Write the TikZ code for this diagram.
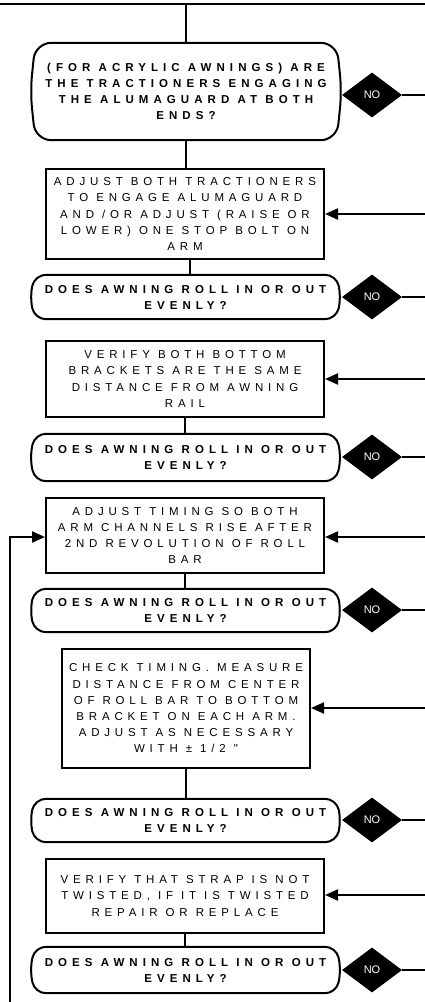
\documentclass[tikz,border=0pt]{standalone}
\usepackage{fontspec}
\setmainfont{Liberation Sans}
\newfontfamily\spfont[LetterSpace=42]{Liberation Sans}
\newfontfamily\bdfont[LetterSpace=44]{Liberation Sans Bold}
\usetikzlibrary{shapes.geometric,arrows.meta,calc}
\tikzset{
  ln/.style={line width=2pt},
  arr/.style={line width=2pt,-{Triangle[length=13pt,width=11pt]}},
  stepbox/.style={draw,line width=2pt,inner sep=0pt,minimum width=278pt,align=center,
    font=\spfont\fontsize{11.5}{16.2}\selectfont},
  decision/.style={inner sep=0pt,minimum width=311pt,align=center,
    font=\bdfont\fontsize{11.5}{16}\selectfont},
  nodia/.style={diamond,fill=black,inner sep=0pt,minimum width=60pt,minimum height=45pt,
    text=white,font=\fontsize{11}{11}\selectfont}
}
\newcommand{\decoutline}[2]{%
  \draw[ln,rounded corners=#2]
    ([xshift=5pt]#1.north west) -- ([xshift=-5pt]#1.north east) -- (#1.east)
    -- ([xshift=-5pt]#1.south east) -- ([xshift=5pt]#1.south west) -- (#1.west) -- cycle;}
\begin{document}
\begin{tikzpicture}[x=1pt,y=-1pt]
\useasboundingbox (0,0) rectangle (425,1002);
% top line
\coordinate (tl) at (0,4);
\coordinate (tr) at (425,4);
\draw[ln] (tl) -- (tr);
% decisions
\node[decision,minimum height=97pt] (D1) at (186,91.5) {(FOR ACRYLIC AWNINGS) ARE\\THE TRACTIONERS ENGAGING\\THE ALUMAGUARD AT BOTH\\ENDS?};
\decoutline{D1}{16pt}
\node[decision,minimum height=44pt] (D2) at (185.5,297) {DOES AWNING ROLL IN OR OUT\\EVENLY?};
\decoutline{D2}{11pt}
\node[decision,minimum height=47pt] (D3) at (185.5,457.5) {DOES AWNING ROLL IN OR OUT\\EVENLY?};
\decoutline{D3}{11pt}
\node[decision,minimum height=43pt] (D4) at (185.5,610.5) {DOES AWNING ROLL IN OR OUT\\EVENLY?};
\decoutline{D4}{11pt}
\node[decision,minimum height=43pt] (D5) at (185.5,820.5) {DOES AWNING ROLL IN OR OUT\\EVENLY?};
\decoutline{D5}{11pt}
\node[decision,minimum height=46pt] (D6) at (185.5,970) {DOES AWNING ROLL IN OR OUT\\EVENLY?};
\decoutline{D6}{11pt}
% boxes
\node[stepbox,minimum height=90pt] (B1) at (185,214) {ADJUST BOTH TRACTIONERS\\TO ENGAGE ALUMAGUARD\\AND /OR ADJUST (RAISE OR\\LOWER) ONE STOP BOLT ON\\ARM};
\node[stepbox,minimum height=76pt] (B2) at (185,379) {VERIFY BOTH BOTTOM\\BRACKETS ARE THE SAME\\DISTANCE FROM AWNING\\RAIL};
\node[stepbox,minimum height=75pt] (B3) at (185,535.5) {ADJUST TIMING SO BOTH\\ARM CHANNELS RISE AFTER\\2ND REVOLUTION OF ROLL\\BAR};
\node[stepbox,minimum width=248pt,minimum height=119pt] (B4) at (186,708.5) {CHECK TIMING. MEASURE\\DISTANCE FROM CENTER\\OF ROLL BAR TO BOTTOM\\BRACKET ON EACH ARM.\\ADJUST AS NECESSARY\\WITH ± 1/2 "};
\node[stepbox,minimum height=74pt] (B5) at (185,896) {VERIFY THAT STRAP IS NOT\\TWISTED, IF IT IS TWISTED\\REPAIR OR REPLACE};
% NO diamonds
\node[nodia] (N1) at (372,95) {NO};
\node[nodia] (N2) at (372,297) {NO};
\node[nodia] (N3) at (372,457) {NO};
\node[nodia] (N4) at (372,610) {NO};
\node[nodia] (N5) at (372,820) {NO};
\node[nodia] (N6) at (372,970) {NO};
% right edge coordinates
\coordinate (e1) at (425,95);
\coordinate (e2) at (425,297);
\coordinate (e3) at (425,457);
\coordinate (e4) at (425,610);
\coordinate (e5) at (425,820);
\coordinate (e6) at (425,970);
\foreach \i in {1,...,6} {\draw[ln] (N\i.east) -- (e\i);}
% vertical connectors
\draw[ln] (D1.north |- tl) -- (D1.north);
\draw[ln] (D1.south) -- (D1.south |- B1.north);
\draw[ln] ([xshift=5pt]B1.south) -- ([xshift=5pt]B1.south |- D2.north);
\draw[ln] (B2.south) -- (B2.south |- D3.north);
\draw[ln] (B3.south) -- (B3.south |- D4.north);
\draw[ln] (B4.south) -- (B4.south |- D5.north);
\draw[ln] (B5.south) -- (B5.south |- D6.north);
% incoming arrows from right
\coordinate (r1) at (425,214);
\coordinate (r2) at (425,379);
\coordinate (r3) at (425,537);
\coordinate (r4) at (425,708);
\coordinate (r5) at (425,895);
\draw[arr] (r1) -- (r1 -| B1.east);
\draw[arr] (r2) -- (r2 -| B2.east);
\draw[arr] (r3) -- (r3 -| B3.east);
\draw[arr] (r4) -- (r4 -| B4.east);
\draw[arr] (r5) -- (r5 -| B5.east);
% left loop
\coordinate (lb) at (10,1002);
\coordinate (lt) at (10,537);
\draw[arr] (lb) -- (lt) -- (lt -| B3.west);
\end{tikzpicture}
\end{document}
